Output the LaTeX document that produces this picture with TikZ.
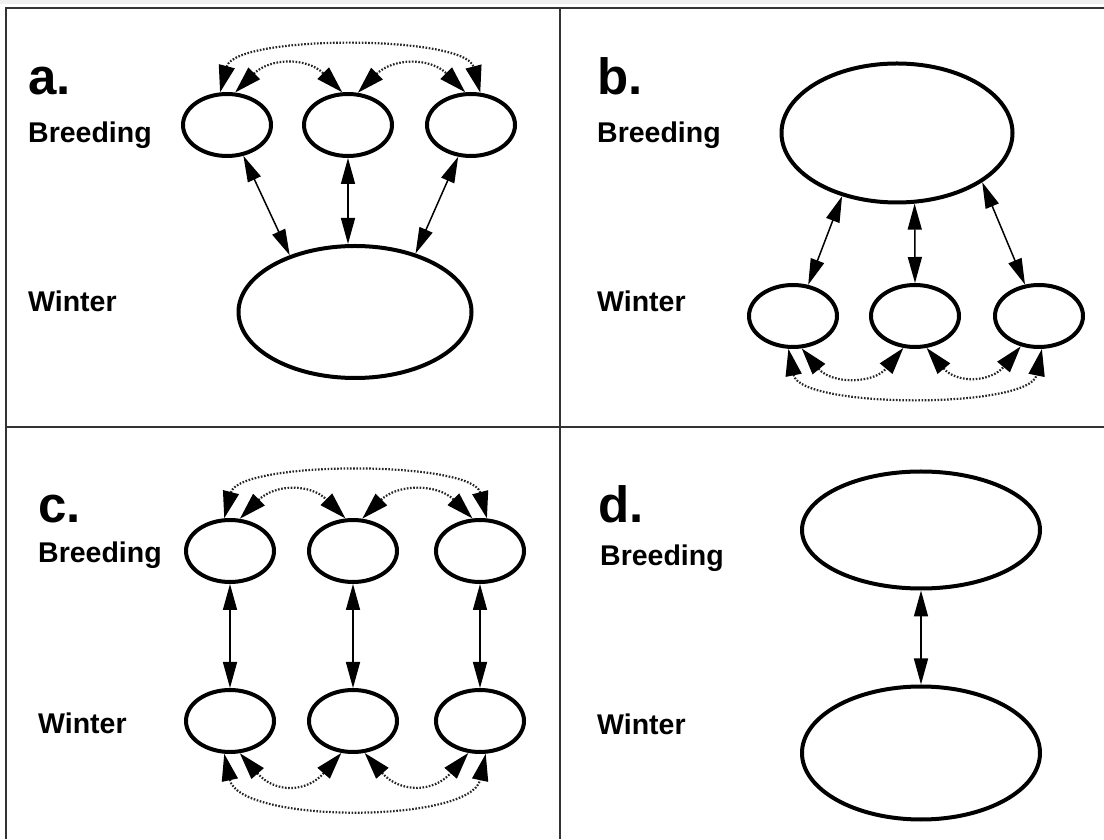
\documentclass[tikz,border=0pt]{standalone}
\usepackage{fontspec}
\setmainfont{Liberation Sans}
\usetikzlibrary{arrows.meta,shapes.geometric}

\begin{document}
\begin{tikzpicture}[x=1pt,y=1pt,
  pop/.style={ellipse,draw,line width=4pt,inner sep=0pt},
  small/.style={pop,minimum width=88pt,minimum height=62pt},
  link/.style={line width=1.5pt,
    {Triangle[length=26pt,width=14pt]}-{Triangle[length=26pt,width=14pt]}},
  disp/.style={line width=2.2pt,black!85,dash pattern=on 1.6pt off 1.6pt,
    {Triangle[length=27pt,width=16pt,color=black]}-{Triangle[length=27pt,width=16pt,color=black]}},
  lab/.style={anchor=base west,inner sep=0pt,font=\bfseries\fontsize{28.5}{30}\selectfont},
  panel/.style={anchor=base west,inner sep=0pt,font=\bfseries\fontsize{51}{53}\selectfont},
  frame/.style={line width=2pt,black!80}]
\useasboundingbox (0,0) rectangle (1104,839);

% frame and panel dividers
\fill[black!6] (0,835) rectangle (1104,839);
\draw[frame] (6,0) -- (6,831) -- (1104,831);
\draw[frame] (560,0) -- (560,831);
\draw[frame] (6,412) -- (1104,412);

% ---- panel a: separate breeding populations, one winter population
\node[panel] (la) at (28,744) {a.};
\node[lab] (ba) at (28,696) {Breeding};
\node[lab] (wa) at (28,527) {Winter};
\node[small] (a1) at (227,714) {};
\node[small] (a2) at (348,714) {};
\node[small] (a3) at (471,714) {};
\node[pop,minimum width=233pt,minimum height=132pt] (aw) at (355,527) {};
\draw[link] (a1.-62) -- (aw.139);
\draw[link] (a2.south) -- (a2.south |- aw.north);
\draw[link] (a3.-112) -- (aw.44);
\draw[disp] (a1.76) .. controls +(35,35) and +(-35,35) .. (a2.100);
\draw[disp] (a2.73) .. controls +(35,35) and +(-35,35) .. (a3.100);
\draw[disp] (a1.102) .. controls +(15,58) and +(-15,58) .. (a3.74);

% ---- panel b: one breeding population, separate winter populations
\node[panel] (lb) at (597,744) {b.};
\node[lab] (bb) at (597,696) {Breeding};
\node[lab] (wb) at (597,527) {Winter};
\node[pop,minimum width=231pt,minimum height=139pt] (bbig) at (897,706) {};
\node[small] (b1) at (793,523) {};
\node[small] (b2) at (915,523) {};
\node[small] (b3) at (1039,523) {};
\draw[link] (bbig.-131) -- (b1.64);
\draw[link] (bbig.-76) -- (b2.north);
\draw[link] (bbig.-30) -- (b3.114);
\draw[disp] (b1.-75) .. controls +(30,-36) and +(-30,-36) .. (b2.-110);
\draw[disp] (b2.-70) .. controls +(30,-36) and +(-30,-36) .. (b3.-121);
\draw[disp] (b1.-98) .. controls +(12,-60) and +(-12,-60) .. (b3.-85);

% ---- panel c: paired breeding and winter populations
\node[panel] (lc) at (38,316) {c.};
\node[lab] (bc) at (38,276) {Breeding};
\node[lab] (wc) at (38,106) {Winter};
\node[small] (c1) at (230,288) {};
\node[small] (c2) at (353,288) {};
\node[small] (c3) at (480,288) {};
\node[small] (cw1) at (230,118) {};
\node[small] (cw2) at (353,118) {};
\node[small] (cw3) at (480,118) {};
\draw[link] (c1.south) -- (cw1.north);
\draw[link] (c2.south) -- (cw2.north);
\draw[link] (c3.south) -- (cw3.north);
\draw[disp] (c1.73) .. controls +(35,35) and +(-35,35) .. (c2.103);
\draw[disp] (c2.74) .. controls +(35,35) and +(-35,35) .. (c3.103);
\draw[disp] (c1.100) .. controls +(15,58) and +(-15,58) .. (c3.78);
\draw[disp] (cw1.-73) .. controls +(35,-40) and +(-35,-40) .. (cw2.-110);
\draw[disp] (cw2.-70) .. controls +(35,-40) and +(-35,-40) .. (cw3.-110);
\draw[disp] (cw1.-100) .. controls +(15,-70) and +(-15,-70) .. (cw3.-80);

% ---- panel d: single breeding and single winter population
\node[panel] (ld) at (598,316) {d.};
\node[lab] (bd) at (600,273) {Breeding};
\node[lab] (wd) at (597,104) {Winter};
\node[pop,minimum width=238pt,minimum height=117pt] (dB) at (921,309) {};
\node[pop,minimum width=238pt,minimum height=133pt] (dW) at (921,86) {};
\draw[link] (dB.south) -- (dW.north);
\end{tikzpicture}
\end{document}
